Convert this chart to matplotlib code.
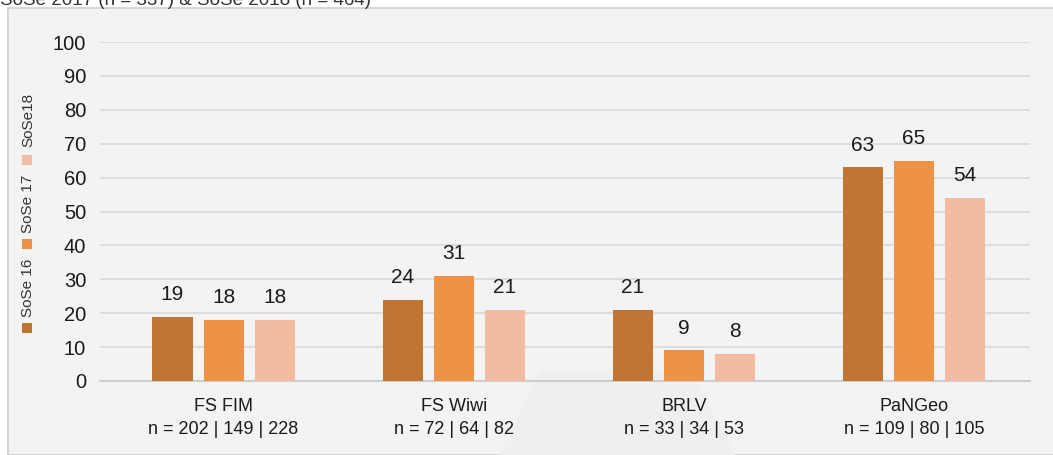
import matplotlib.pyplot as plt
import matplotlib.patches as mpatches
import numpy as np

plt.rcParams['font.family'] = ['Liberation Sans', 'DejaVu Sans']

# data
categories = ['FS FIM', 'FS Wiwi', 'BRLV', 'PaNGeo']
n_labels = ['n = 202 | 149 | 228', 'n = 72 | 64 | 82', 'n = 33 | 34 | 53', 'n = 109 | 80 | 105']
series = ['SoSe 16', 'SoSe 17', 'SoSe18']
sose16 = [19, 24, 21, 63]
sose17 = [18, 31, 9, 65]
sose18 = [18, 21, 8, 54]
colors = ['#C07534', '#EE9245', '#F2BBA2']

W, H = 1053, 455
fig = plt.figure(figsize=(W / 100, H / 100), dpi=100)
fig.patch.set_facecolor('white')

# gray panel with border
panel = mpatches.Rectangle((8 / W, 0), 1, 1 - 8 / H, transform=fig.transFigure,
                           facecolor='#f3f3f3', edgecolor='#d0d0d0', linewidth=1.2, zorder=-10)
fig.patches.append(panel)

# faint watermark
wm = mpatches.Polygon([(500 / W, 0), (540 / W, 85 / H), (690 / W, 85 / H), (735 / W, 0)],
                      closed=True, transform=fig.transFigure, facecolor='#efefef',
                      edgecolor='none', zorder=-9)
fig.patches.append(wm)

# title line, cut at the top edge like the reference
fig.text(0, 1 - 5 / H, 'SoSe 2017 (n = 337) & SoSe 2018 (n = 464)', fontsize=13.5,
         color='#333333', ha='left', va='baseline')

ax = fig.add_axes([100 / W, 74 / H, 930 / W, 339 / H])
ax.set_facecolor('none')

x = np.arange(len(categories))
width = 0.174
offset = 0.222
for i, (vals, c) in enumerate(zip([sose16, sose17, sose18], colors)):
    bars = ax.bar(x + (i - 1) * offset, vals, width, color=c, zorder=3)
    for b, v in zip(bars, vals):
        ax.annotate(str(v), (b.get_x() + b.get_width() / 2, v), xytext=(0, 9),
                    textcoords='offset points', ha='center', va='bottom',
                    fontsize=15, color='#1a1a1a')

ax.set_ylim(0, 100)
ax.set_xlim(-0.537, 3.504)
ax.set_yticks(range(0, 101, 10))
ax.yaxis.grid(True, color='#d9d9d9', linewidth=1.2, zorder=0)
ax.tick_params(axis='y', length=0, labelsize=14.5, labelcolor='#1a1a1a', pad=10)
ax.tick_params(axis='x', length=0, labelsize=13, labelcolor='#1a1a1a', pad=12)
ax.set_xticks(x)
ax.set_xticklabels([f'{c}\n{n}' for c, n in zip(categories, n_labels)], linespacing=1.45)
for s in ['top', 'right', 'left']:
    ax.spines[s].set_visible(False)
ax.spines['bottom'].set_color('#c8c8c8')
ax.spines['bottom'].set_linewidth(1.2)

# vertical legend on the left
sq = 10
for lbl, c, ys, yt in zip(series, colors, [328, 244, 160], [288, 204, 120]):
    r = mpatches.Rectangle(((27 - sq / 2) / W, 1 - (ys + sq / 2) / H), sq / W, sq / H,
                           transform=fig.transFigure, facecolor=c, edgecolor='none')
    fig.patches.append(r)
    fig.text(28 / W, 1 - yt / H, lbl, rotation=90, ha='center', va='center',
             fontsize=11, color='#333333')

fig.savefig('out.png', dpi=100, facecolor=fig.get_facecolor())
